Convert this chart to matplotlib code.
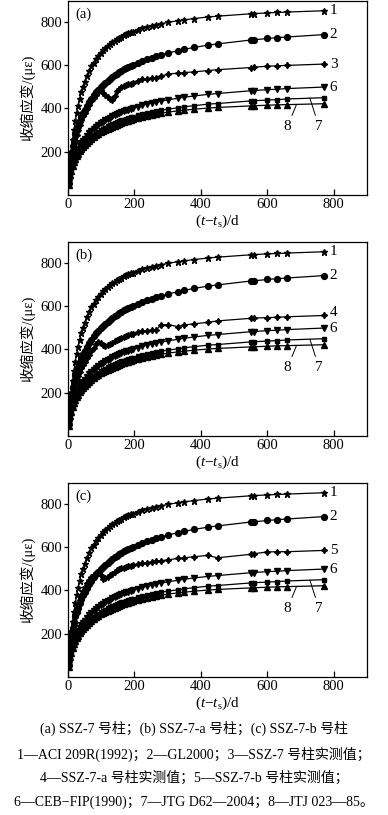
"""Shrinkage strain of SSZ-7 columns: measured vs. code predictions, three panels."""

import matplotlib

matplotlib.use("Agg")
import matplotlib.pyplot as plt

plt.rcParams["font.family"] = ["Liberation Serif", "Noto Sans CJK SC"]
plt.rcParams["mathtext.fontset"] = "custom"
plt.rcParams["mathtext.rm"] = "Liberation Serif"
plt.rcParams["mathtext.it"] = "Liberation Serif:italic"

# measurement ages (t - ts), days
days = [2, 4, 7, 10, 14, 18, 22, 26, 30, 35, 40, 45, 50, 56, 63, 70, 77, 84, 91, 98,
        105, 112, 119, 126, 133, 140, 147, 154, 161, 168, 175, 182, 189, 196, 210, 224,
        238, 252, 266, 280, 300, 330, 350, 380, 420, 450, 550, 560, 600, 630, 660, 770]

# 1 - ACI 209R(1992)
aci = [48, 91, 148, 198, 254, 302, 343, 379, 410, 445, 474, 500, 523, 547, 571, 593,
       611, 628, 642, 655, 667, 677, 687, 696, 704, 711, 718, 724, 730, 736, 741, 746,
       750, 754, 762, 769, 775, 781, 786, 790, 796, 804, 808, 814, 821, 825, 836, 837,
       840, 842, 844, 850]
# 2 - GL2000
gl2000 = [89, 125, 164, 195, 228, 256, 280, 301, 320, 341, 360, 377, 393, 410, 428, 445,
          460, 473, 486, 497, 508, 518, 528, 536, 544, 552, 559, 566, 573, 579, 585, 590,
          596, 601, 610, 618, 626, 634, 640, 646, 655, 665, 672, 681, 691, 697, 715, 716,
          722, 726, 729, 740]
# 6 - CEB-FIP(1990)
ceb = [59, 83, 108, 128, 150, 169, 184, 199, 211, 225, 238, 250, 260, 272, 284, 295,
       305, 314, 323, 331, 338, 345, 351, 357, 363, 368, 373, 378, 382, 386, 390, 394,
       398, 401, 408, 414, 419, 424, 429, 433, 439, 446, 451, 457, 464, 468, 481, 482,
       486, 488, 491, 498]
# 7 - JTG D62-2004
jtg = [53, 75, 97, 115, 135, 152, 166, 180, 190, 203, 215, 226, 235, 245, 256, 266,
       275, 283, 291, 299, 305, 311, 317, 322, 327, 332, 337, 341, 345, 348, 352, 355,
       359, 362, 368, 374, 378, 383, 387, 391, 396, 402, 407, 412, 419, 422, 434, 435,
       438, 440, 443, 449]
# 8 - JTJ 023-85
jtj = [45, 68, 92, 112, 133, 150, 165, 178, 189, 201, 212, 222, 231, 241, 251, 260,
       268, 276, 283, 289, 295, 301, 306, 311, 316, 320, 325, 329, 333, 336, 340, 343,
       346, 349, 355, 360, 365, 369, 373, 377, 382, 388, 391, 396, 401, 404, 411, 412,
       414, 416, 417, 421]

# measured: 3 - SSZ-7, 4 - SSZ-7-a, 5 - SSZ-7-b
meas_a = [80, 130, 175, 200, 208, 215, 245, 275, 300, 325, 345, 365, 380, 398, 415, 432,
          448, 462, 476, 485, 470, 460, 452, 444, 438, 458, 478, 490, 497, 503, 506, 510,
          513, 518, 528, 533, 537, 540, 542, 548, 558, 562, 565, 568, 574, 578, 588, 590,
          594, 596, 598, 604]
meas_b = [75, 120, 165, 195, 215, 230, 245, 262, 278, 295, 312, 328, 342, 358, 375, 392,
          408, 425, 435, 428, 418, 416, 420, 425, 430, 436, 442, 447, 452, 458, 462, 466,
          469, 472, 478, 484, 486, 488, 490, 512, 514, 505, 512, 518, 524, 531, 543, 544,
          546, 548, 550, 556]
meas_c = [90, 150, 195, 210, 215, 240, 275, 305, 330, 355, 378, 398, 415, 432, 448, 460,
          470, 478, 485, 470, 452, 455, 462, 470, 477, 485, 492, 497, 501, 505, 508, 511,
          514, 516, 520, 524, 527, 530, 534, 537, 540, 547, 550, 555, 561, 550, 566, 569,
          577, 578, 578, 584]

panel_tags = ["(a)", "(b)", "(c)"]
measured = [meas_a, meas_b, meas_c]
measured_ids = ["3", "4", "5"]

caption = [
    "(a) SSZ-7 号柱；(b) SSZ-7-a 号柱；(c) SSZ-7-b 号柱",
    "1—ACI 209R(1992)；2—GL2000；3—SSZ-7 号柱实测值；",
    "4—SSZ-7-a 号柱实测值；5—SSZ-7-b 号柱实测值；",
    "6—CEB−FIP(1990)；7—JTG D62—2004；8—JTJ 023—85。",
]

W, H = 388, 815
fig = plt.figure(figsize=(W / 100, H / 100), dpi=100)

tops = [1, 242, 483]
ax_h = 194
star4 = (4, 1, 0)

for i, top in enumerate(tops):
    ax = fig.add_axes([68 / W, 1 - (top + ax_h) / H, 299 / W, ax_h / H])
    kw = dict(color="black", lw=0.9)
    ax.plot(days, aci, marker="*", ms=4.5, **kw)
    ax.plot(days, gl2000, marker="o", ms=4.2, **kw)
    ax.plot(days, measured[i], marker=star4, ms=4.5, **kw)
    ax.plot(days, ceb, marker="v", ms=3.8, **kw)
    ax.plot(days, jtg, marker="s", ms=3.5, **kw)
    ax.plot(days, jtj, marker="^", ms=3.8, **kw)

    ax.set_xlim(0, 900)
    ax.set_ylim(0, 895)
    ax.set_xticks([0, 200, 400, 600, 800])
    ax.set_yticks([200, 400, 600, 800])
    ax.tick_params(axis="x", direction="in", length=4, width=0.9, pad=2, labelsize=10.5)
    ax.tick_params(axis="y", direction="out", length=3, width=0.9, pad=1, labelsize=10.5)
    for sp in ax.spines.values():
        sp.set_linewidth(0.9)

    ax.text(0.025, 0.965, panel_tags[i], transform=ax.transAxes, ha="left", va="top", fontsize=10.5)

    # curve numbers at the right end (measured and CEB labels pushed apart a little)
    ends = [("1", aci[-1]), ("2", gl2000[-1]),
            (measured_ids[i], max(measured[i][-1], ceb[-1] + 72)), ("6", ceb[-1] - 4)]
    for lab, yv in ends:
        ax.text(788, yv, lab, ha="left", va="center", fontsize=11)
    ax.annotate("8", xy=(688, jtj[-3] + 2), xytext=(661, 318), ha="center", va="center", fontsize=11,
                arrowprops=dict(arrowstyle="-", lw=0.7, color="black", shrinkA=1, shrinkB=0))
    ax.annotate("7", xy=(728, jtg[-2] + 4), xytext=(755, 318), ha="center", va="center", fontsize=11,
                arrowprops=dict(arrowstyle="-", lw=0.7, color="black", shrinkA=1, shrinkB=0))

    fig.text(27.5 / W, 1 - (top + ax_h / 2) / H, "收缩应变/(με)", rotation=90,
             ha="center", va="center", fontsize=10.5)
    fig.text(217.5 / W, 1 - (top + ax_h + 26) / H, r"$\mathrm{(}t\mathrm{-}t_\mathrm{s}\mathrm{)/d}$",
             ha="center", va="center", fontsize=11)

for y_px, line in zip([728, 754, 777.5, 802], caption):
    fig.text(194 / W, 1 - y_px / H, line, ha="center", va="center", fontsize=10)

fig.savefig("out.png", dpi=100)
